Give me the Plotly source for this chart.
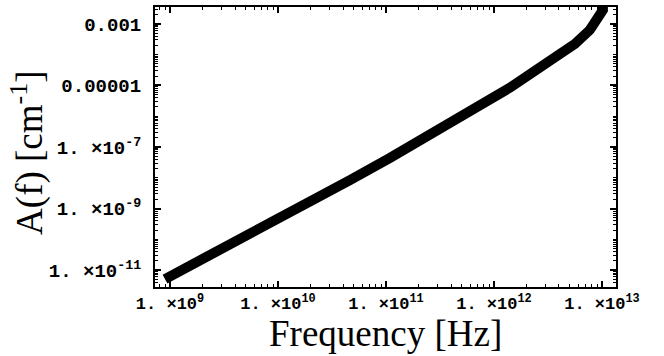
import plotly.graph_objects as go

# Data (frequency in Hz, absorption in cm^-1)
freq = [8.99e8, 1.90e9, 5.51e9, 1.60e10, 4.64e10, 1.09e11, 3.91e11, 1.41e12,
        2.67e12, 4.08e12, 5.62e12, 7.74e12, 9.18e12, 1.02e13, 1.02e13]
absn = [5.13e-12, 2.02e-11, 1.47e-10, 1.09e-9, 8.43e-9, 4.45e-8, 5.90e-7, 8.55e-6,
        3.89e-5, 1.02e-4, 2.23e-4, 6.40e-4, 1.47e-3, 2.83e-3, 3.5e-3]

xtick_vals = [1e9, 1e10, 1e11, 1e12, 1e13]
xtick_text = ["1. ×10<sup>9</sup>", "1. ×10<sup>10</sup>", "1. ×10<sup>11</sup>",
              "1. ×10<sup>12</sup>", "1. ×10<sup>13</sup>"]
ytick_vals = [1e-11, 1e-9, 1e-7, 1e-5, 1e-3]
ytick_text = ["1. ×10<sup>-11</sup>", "1. ×10<sup>-9</sup>", "1. ×10<sup>-7</sup>",
              "0.00001", "0.001"]

fig = go.Figure()
fig.add_trace(go.Scatter(x=freq, y=absn, mode="lines",
                         line=dict(color="black", width=10),
                         showlegend=False, hoverinfo="skip"))

axis_common = dict(type="log", showgrid=False, zeroline=False, showline=True,
                   linecolor="black", linewidth=2, mirror="ticks",
                   ticks="inside", ticklen=6, tickwidth=1.5, tickcolor="black",
                   minor=dict(ticks="inside", ticklen=3, tickwidth=1,
                              tickcolor="black", dtick="D1", showgrid=False))

fig.update_xaxes(**axis_common, range=[8.861, 13.13], tickmode="array",
                 tickvals=xtick_vals, ticktext=xtick_text, ticklabelstandoff=0,
                 tickfont=dict(family="Liberation Mono", size=17, color="black",
                               weight="bold"))
fig.update_yaxes(**axis_common, range=[-11.548, -2.452], tickmode="array",
                 tickvals=ytick_vals, ticktext=ytick_text, ticklabelstandoff=8,
                 tickfont=dict(family="Liberation Mono", size=19, color="black",
                               weight="bold"))

fig.update_layout(
    width=664, height=356,
    margin=dict(l=155, r=48, t=5, b=69),
    paper_bgcolor="white", plot_bgcolor="white",
    font=dict(family="Liberation Serif", color="black"),
    annotations=[
        dict(text="Frequency [Hz]", xref="paper", yref="paper", x=0.5, y=-0.167,
             xanchor="center", yanchor="middle", showarrow=False,
             font=dict(family="Liberation Serif", size=37, color="black")),
        dict(text="A(f) [cm<sup>-1</sup>]", xref="paper", yref="paper",
             x=-0.277, y=0.48, xanchor="center", yanchor="middle", textangle=-90,
             showarrow=False,
             font=dict(family="Liberation Serif", size=37, color="black")),
    ],
)

fig.write_html("out.html")
